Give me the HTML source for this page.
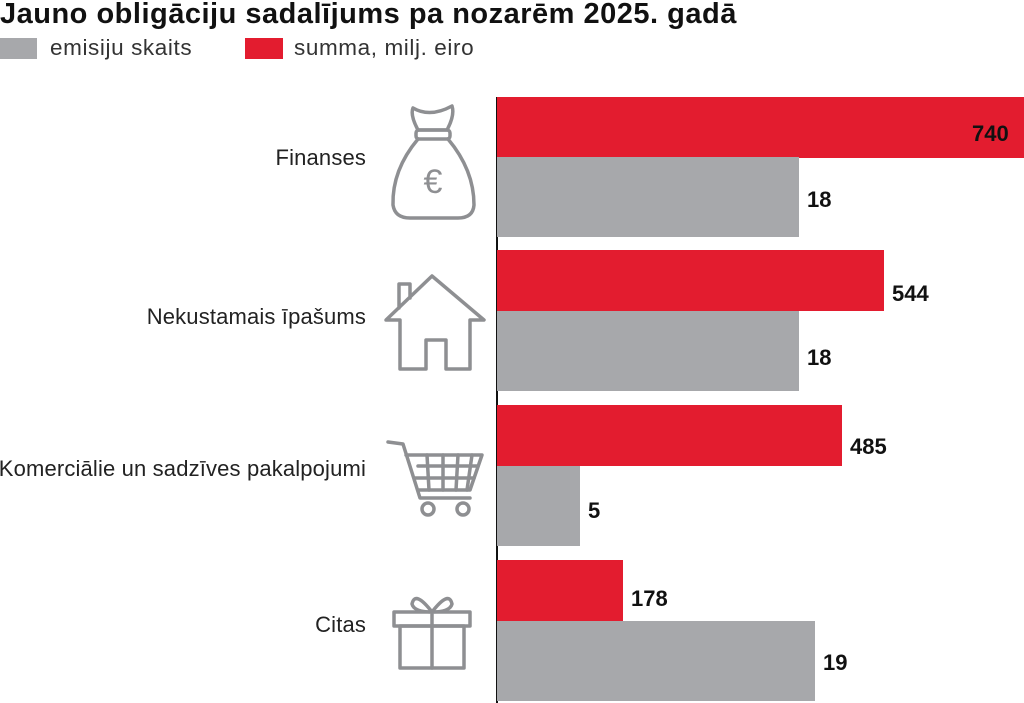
<!DOCTYPE html>
<html><head><meta charset="utf-8"><style>
body{margin:0;width:1024px;height:703px;background:#fff;position:relative;overflow:hidden;font-family:"Liberation Sans",sans-serif}
.a{position:absolute}
.t{left:0;top:-2px;font-size:29px;font-weight:bold;color:#111;white-space:nowrap;letter-spacing:0.5px}
.lg{font-size:22.5px;color:#333;top:35px;letter-spacing:0.6px}
.lab{font-size:22px;color:#222;text-align:right;right:658px;white-space:nowrap;letter-spacing:0.15px}
.r{background:#e31c2f;left:497px;height:61px}
.g{background:#a7a8ab;left:497px;height:80px}
.v{font-size:22px;font-weight:bold;color:#111}
</style></head><body>
<div class="a t">Jauno obligāciju sadalījums pa nozarēm 2025. gadā</div>
<div class="a" style="left:0;top:38px;width:37px;height:21px;background:#a7a8ab"></div>
<div class="a lg" style="left:50px">emisiju skaits</div>
<div class="a" style="left:245px;top:38px;width:38px;height:21px;background:#e31c2f"></div>
<div class="a lg" style="left:294px">summa, milj. eiro</div>
<div class="a" style="left:496px;top:97px;width:2px;height:606px;background:#111"></div>

<div class="a r" style="top:97px;width:527px"></div>
<div class="a g" style="top:157px;width:302px"></div>
<div class="a v" style="left:972px;top:121px">740</div>
<div class="a v" style="left:807px;top:187px">18</div>
<div class="a lab" style="top:145px">Finanses</div>

<div class="a r" style="top:250px;width:387px"></div>
<div class="a g" style="top:311px;width:302px"></div>
<div class="a v" style="left:892px;top:281px">544</div>
<div class="a v" style="left:807px;top:345px">18</div>
<div class="a lab" style="top:304px">Nekustamais īpašums</div>

<div class="a r" style="top:405px;width:345px"></div>
<div class="a g" style="top:466px;width:83px"></div>
<div class="a v" style="left:850px;top:434px">485</div>
<div class="a v" style="left:588px;top:498px">5</div>
<div class="a lab" style="top:456px">Komerciālie un sadzīves pakalpojumi</div>

<div class="a r" style="top:560px;width:126px"></div>
<div class="a g" style="top:621px;width:318px"></div>
<div class="a v" style="left:631px;top:586px">178</div>
<div class="a v" style="left:823px;top:650px">19</div>
<div class="a lab" style="top:612px">Citas</div>

<svg class="a" style="left:0;top:0" width="497" height="703" fill="none" stroke="#8e8f92" stroke-width="3.5" stroke-linejoin="round" stroke-linecap="round">
<path d="M413 108 Q430 118 452 106 Q455 115 447 130 L418 130 Q410 115 413 108Z"/>
<rect x="416" y="130" width="34" height="9" rx="3"/>
<path d="M418 139 Q392 170 393 205 Q395 218 410 218 L458 218 Q473 218 474 205 Q474 170 448 139"/>
<text x="433" y="193" font-size="34" fill="#8e8f92" stroke="none" text-anchor="middle" font-family="Liberation Sans">€</text>
<path d="M386 320 L432 276 L484 320 L470 320 L470 369 L446 369 L446 340 L426 340 L426 369 L400 369 L400 320Z M399 308 L399 284 L410 284 L410 298"/>
<path d="M388 442 L403 444 L420 498 L470 498 M406 455 L482 455 L470 490 L418 490"/>
<path d="M418 466 L478 466 M415 478 L474 478 M427 455 L429 490 M443 455 L443 490 M458 455 L456 490 M472 455 L467 490"/>
<circle cx="428" cy="509" r="6"/><circle cx="463" cy="509" r="6"/>
<rect x="394" y="612" width="76" height="14"/>
<rect x="400" y="626" width="64" height="42"/>
<path d="M432 612 L432 668 M432 612 Q415 590 412 604 Q414 612 432 612 Q449 590 452 604 Q450 612 432 612"/>
</svg>
</body></html>
